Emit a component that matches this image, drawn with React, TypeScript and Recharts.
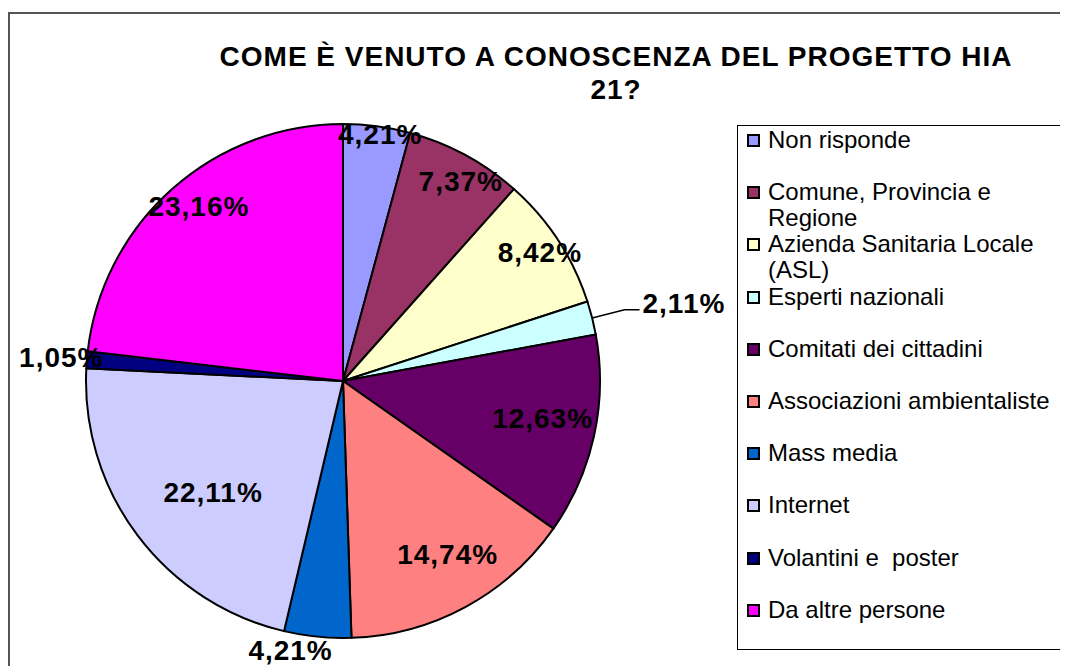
import React from 'react';
import { PieChart, Pie, Cell, Legend } from 'recharts';

const CATEGORIES = [
  'Non risponde',
  'Comune, Provincia e Regione',
  'Azienda Sanitaria Locale (ASL)',
  'Esperti nazionali',
  'Comitati dei cittadini',
  'Associazioni ambientaliste',
  'Mass media',
  'Internet',
  'Volantini e  poster',
  'Da altre persone',
];
const PERCENTS = [4.21, 7.37, 8.42, 2.11, 12.63, 14.74, 4.21, 22.11, 1.05, 23.16];
const COLORS = ['#9999FF', '#993366', '#FFFFCC', '#CCFFFF', '#660066', '#FF8080', '#0066CC', '#CCCCFF', '#000080', '#FF00FF'];

const TITLE_LINES = ['COME È VENUTO A CONOSCENZA DEL PROGETTO HIA', '21?'];

// label placement around each slice's mid angle (Excel "best fit" look)
const LABEL_RADIUS = [0.97, 0.9, 0.915, 1.13, 0.79, 0.79, 1.07, 0.665, 1.1, 0.88];
const LABEL_TURN = [-1, -2.2, 0, 0, 1.8, 2.6, -5.3, 3.6, 0, -2.1];

const W = 1060;
const H = 658;
const FONT = '"Liberation Sans", Arial, sans-serif';
const RAD = Math.PI / 180;

const data = CATEGORIES.map((name, i) => ({ name, value: PERCENTS[i] }));

const fmt = (v: number) => v.toFixed(2).replace('.', ',') + '%';

const renderLabel = (props: any) => {
  const { cx, cy, midAngle, outerRadius, index, value } = props;
  const k = LABEL_RADIUS[index];
  const a = -(midAngle + LABEL_TURN[index]) * RAD;
  const cos = Math.cos(a);
  const sin = Math.sin(a);
  const text = fmt(value);

  if (index === 3) {
    // small slice: label outside with a leader line
    const sx = cx + outerRadius * cos;
    const sy = cy + outerRadius * sin;
    const ex = cx + outerRadius * k * cos;
    const ey = cy + outerRadius * k * sin;
    return (
      <g key={`lbl-${index}`}>
        <polyline points={`${sx},${sy} ${ex},${ey} ${ex + 15},${ey}`} fill="none" stroke="#000" strokeWidth={1.5} />
        <text x={ex + 18} y={ey - 6} textAnchor="start" dominantBaseline="central" letterSpacing={1}
          fontFamily={FONT} fontWeight="bold" fontSize={28} fill="#000">{text}</text>
      </g>
    );
  }

  const x = cx + outerRadius * k * cos;
  const y = cy + outerRadius * k * sin;
  return (
    <text key={`lbl-${index}`} x={x} y={y} textAnchor="middle" dominantBaseline="central" letterSpacing={1}
      fontFamily={FONT} fontWeight="bold" fontSize={28} fill="#000">{text}</text>
  );
};

const renderLegend = () => (
  <div style={{
    position: 'relative', width: 324, height: 523, border: '1px solid #000',
    background: '#fff', fontFamily: FONT, fontSize: 24, color: '#000',
  }}>
    {CATEGORIES.map((name, i) => (
      <div key={name} style={{ position: 'absolute', left: 9, top: 1 + i * 52.2, display: 'flex', alignItems: 'flex-start' }}>
        <div style={{
          width: 9, height: 9, marginTop: 7, marginRight: 8, flex: 'none',
          background: COLORS[i], border: '2px solid #000',
        }} />
        <div style={{ width: 292, lineHeight: '26px', whiteSpace: 'pre-wrap' }}>{name}</div>
      </div>
    ))}
  </div>
);

export default function App() {
  return (
    <div style={{ position: 'relative', width: W, height: H, overflow: 'hidden', background: '#fff' }}>
      <div style={{
        position: 'absolute', left: 0, top: 4, width: W + 20, height: H + 20,
        borderLeft: '2px solid #555', borderTop: '2px solid #555',
      }} />
      {TITLE_LINES.map((t, i) => (
        <div key={t} style={{
          position: 'absolute', left: 208, width: 800, top: 32 + i * 33, textAlign: 'center',
          fontFamily: FONT, fontWeight: 'bold', fontSize: 28, letterSpacing: 1,
          lineHeight: '33px', whiteSpace: 'nowrap',
        }}>{t}</div>
      ))}
      <PieChart width={W} height={H} margin={{ top: 0, right: 0, bottom: 0, left: 0 }}
        style={{ position: 'absolute', left: 0, top: 0 }}>
        <Pie
          data={data}
          dataKey="value"
          nameKey="name"
          cx={335}
          cy={373}
          outerRadius={257}
          startAngle={90}
          endAngle={-270}
          stroke="#000"
          strokeWidth={2}
          label={renderLabel}
          labelLine={false}
          isAnimationActive={false}
        >
          {data.map((d, i) => (
            <Cell key={d.name} fill={COLORS[i]} />
          ))}
        </Pie>
        <Legend
          content={renderLegend}
          wrapperStyle={{ position: 'absolute', left: 729, top: 117, width: 326, height: 525 }}
        />
      </PieChart>
    </div>
  );
}
